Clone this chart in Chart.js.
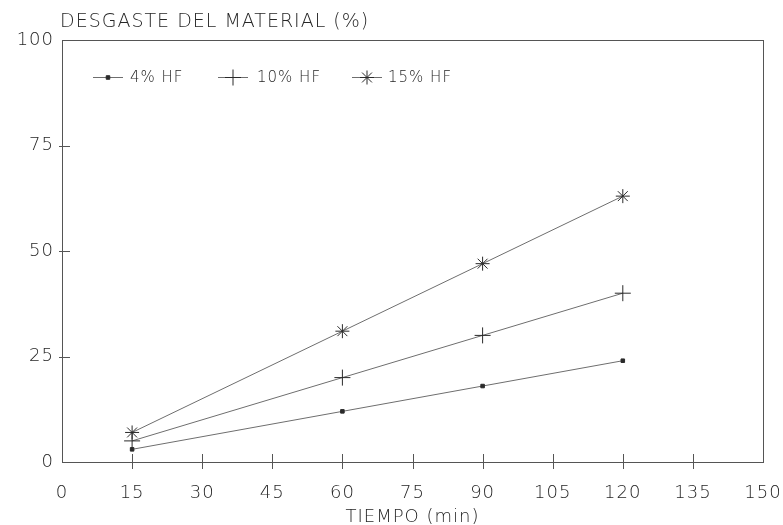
<!DOCTYPE html>
<html>
<head>
<meta charset="utf-8">
<script src="https://cdn.jsdelivr.net/npm/chart.js@4.4.1/dist/chart.umd.min.js"></script>
<style>
  html, body { margin: 0; padding: 0; background: #ffffff; }
  #wrap { width: 783px; height: 525px; }
</style>
</head>
<body>
<div id="wrap"><canvas id="c" width="783" height="525"></canvas></div>
<script>
// Time in minutes
const tiempo = [15, 60, 90, 120];
// Material wear (%) per HF concentration
const hf4 = [3, 12, 18, 24];
const hf10 = [5, 20, 30, 40];
const hf15 = [7, 31, 47, 63];
const seriesNames = ['4% HF', '10% HF', '15% HF'];
const xTicks = [0, 15, 30, 45, 60, 75, 90, 105, 120, 135, 150];
const yTicks = [0, 25, 50, 75, 100];

const axisColor = '#555555';
const textColor = '#262626';
const lineColor = '#6e6e6e';
const markColor = '#2a2a2a';
const fontFamily = '"DejaVu Sans", "Liberation Sans", sans-serif';
const fontWeight = '200';

function pts(ys) { return tiempo.map((t, i) => ({ x: t, y: ys[i] })); }

const styles = [
  { pointStyle: 'rect', pointRadius: 2.5 },
  { pointStyle: 'cross', pointRadius: 8 },
  { pointStyle: 'star', pointRadius: 7 }
];

const datasets = [hf4, hf10, hf15].map((ys, i) => ({
  label: seriesNames[i],
  data: pts(ys),
  borderColor: lineColor,
  borderWidth: 1,
  pointStyle: styles[i].pointStyle,
  pointRadius: styles[i].pointRadius,
  pointBorderColor: markColor,
  pointBackgroundColor: markColor,
  pointBorderWidth: 1,
  tension: 0,
  fill: false
}));

// Spaced-out lettering for every label on the canvas
const spacing = {
  id: 'spacing',
  beforeDraw(chart) { chart.ctx.letterSpacing = '1px'; }
};

// Frame, crossing tick marks, axis titles and inline legend
const decor = {
  id: 'decor',
  afterDraw(chart) {
    const ctx = chart.ctx;
    const a = chart.chartArea;
    const xs = chart.scales.x, ys = chart.scales.y;
    ctx.save();
    ctx.letterSpacing = '1px';
    ctx.strokeStyle = axisColor;
    ctx.lineWidth = 1;
    ctx.strokeRect(a.left + 0.5, a.top + 0.5, a.right - a.left, a.bottom - a.top);
    ctx.beginPath();
    xTicks.forEach(v => {
      if (v === 0 || v === 150) return;
      const px = Math.round(xs.getPixelForValue(v)) + 0.5;
      ctx.moveTo(px, a.bottom - 8);
      ctx.lineTo(px, a.bottom + 7);
    });
    yTicks.forEach(v => {
      if (v === 0 || v === 100) return;
      const py = Math.round(ys.getPixelForValue(v)) + 0.5;
      ctx.moveTo(a.left - 3, py);
      ctx.lineTo(a.left + 8, py);
    });
    ctx.stroke();

    ctx.fillStyle = textColor;
    ctx.font = fontWeight + ' 19px ' + fontFamily;
    ctx.textBaseline = 'alphabetic';
    ctx.textAlign = 'left';
    ctx.fillText('DESGASTE DEL MATERIAL (%)', 60, 27);
    ctx.font = fontWeight + ' 18px ' + fontFamily;
    ctx.textAlign = 'center';
    ctx.fillText('TIEMPO (min)', (a.left + a.right) / 2, 522);

    // legend
    const legendY = 77;
    const items = [{ x0: 93, tx: 130 }, { x0: 218, tx: 257 }, { x0: 352, tx: 388 }];
    ctx.font = fontWeight + ' 15px ' + fontFamily;
    ctx.textAlign = 'left';
    ctx.textBaseline = 'middle';
    items.forEach((it, i) => {
      ctx.strokeStyle = lineColor;
      ctx.beginPath();
      ctx.moveTo(it.x0, legendY + 0.5);
      ctx.lineTo(it.x0 + 30, legendY + 0.5);
      ctx.stroke();
      ctx.strokeStyle = markColor;
      ctx.fillStyle = markColor;
      Chart.helpers.drawPoint(ctx, {
        pointStyle: styles[i].pointStyle,
        radius: styles[i].pointRadius,
        rotation: 0,
        borderWidth: 1
      }, it.x0 + 15, legendY + 0.5);
      ctx.fillStyle = textColor;
      ctx.fillText(seriesNames[i], it.tx, legendY + 1);
    });
    ctx.restore();
  }
};

const tickFont = { family: fontFamily, size: 18, weight: fontWeight };

new Chart(document.getElementById('c'), {
  type: 'line',
  data: { datasets },
  options: {
    responsive: false,
    animation: false,
    devicePixelRatio: 1,
    layout: { padding: { top: 40, right: 20, left: 0, bottom: 0 } },
    plugins: { legend: { display: false }, tooltip: { enabled: false }, title: { display: false } },
    scales: {
      x: {
        type: 'linear', min: 0, max: 150,
        afterFit(s) { s.height = 63; s.paddingLeft = 0; s.paddingRight = 0; },
        afterBuildTicks(s) { s.ticks = xTicks.map(v => ({ value: v })); },
        grid: { display: false, drawTicks: false },
        border: { display: true, color: axisColor, width: 1 },
        ticks: { color: textColor, font: tickFont, padding: 21, maxRotation: 0, autoSkip: false }
      },
      y: {
        type: 'linear', min: 0, max: 100,
        afterFit(s) { s.width = 62; s.paddingTop = 0; s.paddingBottom = 0; },
        afterBuildTicks(s) { s.ticks = yTicks.map(v => ({ value: v })); },
        grid: { display: false, drawTicks: false },
        border: { display: true, color: axisColor, width: 1 },
        ticks: { color: textColor, font: tickFont, padding: 8 }
      }
    }
  },
  plugins: [spacing, decor]
});
</script>
</body>
</html>
